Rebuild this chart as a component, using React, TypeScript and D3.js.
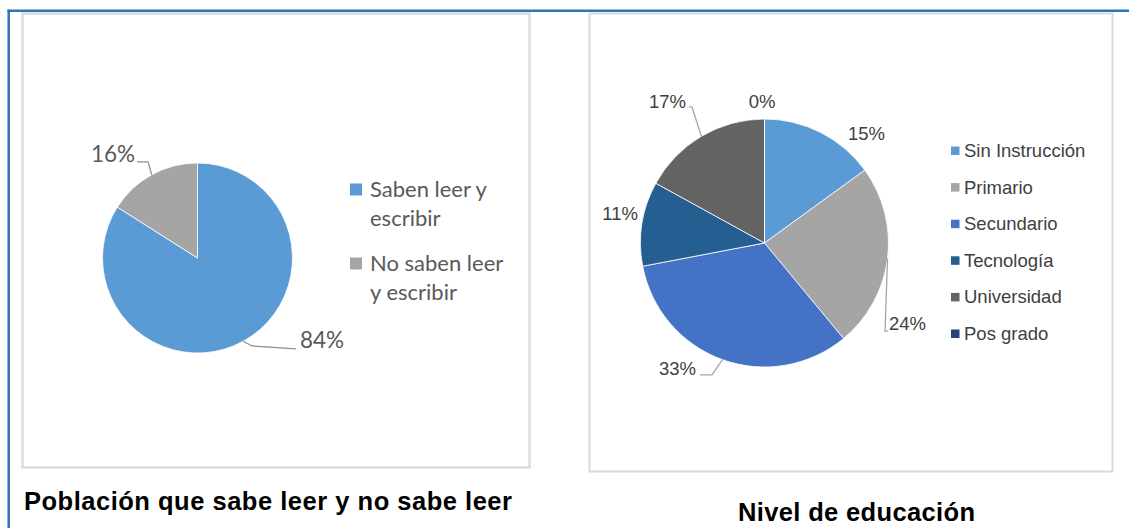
import React from 'react';
import * as d3 from 'd3';

// datos: alfabetizacion
const litCategories = ['Saben leer y escribir', 'No saben leer y escribir'];
const litValues = [84, 16];
const litLegendLines = [['Saben leer y', 'escribir'], ['No saben leer', 'y escribir']];
const litColors = ['#5b9bd5', '#a5a5a5'];

// datos: nivel de educacion
const eduCategories = ['Sin Instrucción', 'Primario', 'Secundario', 'Tecnología', 'Universidad', 'Pos grado'];
const eduValues = [15, 24, 33, 11, 17, 0];
const eduColors = ['#5b9bd5', '#a5a5a5', '#4472c4', '#255e91', '#636363', '#264478'];

const titles = ['Población que sabe leer y no sabe leer', 'Nivel de educación'];

// ajustes de etiquetas (dx, dy desde el borde del sector)
const litLabelOff: [number, number, string][] = [[56.7, 6.7, 'start'], [-16.7, -12.8, 'end']];
const litLeaders: [number, number][][] = [[[8.7, 4.7], [52.7, 7.7]], [[-3.7, -12.8], [-14.7, -12.8]]];
const eduLabelOff: [number, number, string][] = [
  [27.2, 7.5, 'start'], [1.5, 71.5, 'start'], [-26.5, 15.3, 'end'],
  [-4, -3.6, 'end'], [-15.4, -28.3, 'end'], [-2.5, -11, 'middle'],
];
const eduLeaders: ([number, number][] | null)[] = [
  null, [[-2.5, 72.5], [0.5, 72.5]], [[-10.5, 15.3], [-22.5, 15.3]],
  null, [[-9.4, -29.3], [-12.4, -29.3]], null,
];

const pie = d3.pie<number>().sort(null).value(d => d);

function outer(a: d3.PieArcDatum<number>, cx: number, cy: number, r: number) {
  const m = (a.startAngle + a.endAngle) / 2;
  return [cx + r * Math.sin(m), cy - r * Math.cos(m)];
}

const LitChart = () => {
  const cx = 197.5, cy = 258, r = 95;
  const arcs = pie(litValues);
  const arc = d3.arc<d3.PieArcDatum<number>>().innerRadius(0).outerRadius(r);
  const font = 'Lato, "Open Sans", sans-serif';
  return (
    <g>
      <rect x={22.5} y={13.5} width={507} height={454} fill="#fff" stroke="#dcdcdc" strokeWidth={2.5} />
      <g transform={`translate(${cx},${cy})`}>
        {arcs.map((a, i) => (
          <path key={i} d={arc(a) || ''} fill={litColors[i]} stroke="#fff" strokeWidth={0.8} />
        ))}
      </g>
      {arcs.map((a, i) => {
        const [ox, oy] = outer(a, cx, cy, r);
        const pts = [[ox, oy], ...litLeaders[i].map(([dx, dy]) => [ox + dx, oy + dy])];
        return (
          <g key={i}>
            <polyline points={pts.map(p => p.join(',')).join(' ')} fill="none" stroke="#8c8c8c" strokeWidth={1.2} />
            <text x={ox + litLabelOff[i][0]} y={oy + litLabelOff[i][1]} textAnchor={litLabelOff[i][2] as any}
              fontFamily={font} fontSize={22.5} fill="#595959">{d3.format('.0%')(a.data / 100)}</text>
          </g>
        );
      })}
      {litCategories.map((c, i) => (
        <g key={c} transform={`translate(350,${183.5 + i * 74})`}>
          <rect width={12} height={12} fill={litColors[i]} />
          {litLegendLines[i].map((l, j) => (
            <text key={j} x={20} y={13.5 + j * 28.7} fontFamily={font} fontSize={22} fill="#595959">{l}</text>
          ))}
        </g>
      ))}
    </g>
  );
};

const EduChart = () => {
  const cx = 764.5, cy = 243, r = 124;
  const arcs = pie(eduValues);
  const arc = d3.arc<d3.PieArcDatum<number>>().innerRadius(0).outerRadius(r);
  const font = '"Liberation Sans", Arial, sans-serif';
  return (
    <g>
      <rect x={589.5} y={13.5} width={523} height={458} fill="#fff" stroke="#d9d9d9" strokeWidth={2} />
      <g transform={`translate(${cx},${cy})`}>
        {arcs.map((a, i) => (
          <path key={i} d={arc(a) || ''} fill={eduColors[i]} stroke="#fff" strokeWidth={0.8} />
        ))}
      </g>
      {arcs.map((a, i) => {
        const [ox, oy] = outer(a, cx, cy, r);
        const ld = eduLeaders[i];
        return (
          <g key={i}>
            {ld && (
              <polyline points={[[ox, oy], ...ld.map(([dx, dy]) => [ox + dx, oy + dy])].map(p => p.join(',')).join(' ')}
                fill="none" stroke="#a6a6a6" strokeWidth={1.3} />
            )}
            <text x={ox + eduLabelOff[i][0]} y={oy + eduLabelOff[i][1]} textAnchor={eduLabelOff[i][2] as any}
              fontFamily={font} fontSize={18.5} fill="#404040">{d3.format('.0%')(a.data / 100)}</text>
          </g>
        );
      })}
      {eduCategories.map((c, i) => (
        <g key={c} transform={`translate(951,${146.5 + i * 36.6})`}>
          <rect width={8.5} height={8.5} fill={eduColors[i]} />
          <text x={13} y={10.5} fontFamily={font} fontSize={18.5} fill="#404040">{c}</text>
        </g>
      ))}
    </g>
  );
};

export default function App() {
  return (
    <svg width={1129} height={528} style={{ position: 'absolute', left: 0, top: 0, background: '#fff' }}>
      <line x1={7.5} y1={10.7} x2={1129} y2={10.7} stroke="#2e75b6" strokeWidth={2.5} />
      <line x1={8.7} y1={9.5} x2={8.7} y2={528} stroke="#2e75b6" strokeWidth={2.5} />
      <LitChart />
      <EduChart />
      <text x={24} y={509.5} fontFamily='"Liberation Sans", Arial, sans-serif' fontWeight="bold" fontSize={25.5}
        textLength={488} lengthAdjust="spacing" fill="#000">{titles[0]}</text>
      <text x={738} y={521} fontFamily='"Liberation Sans", Arial, sans-serif' fontWeight="bold" fontSize={25.5}
        textLength={237} lengthAdjust="spacing" fill="#000">{titles[1]}</text>
    </svg>
  );
}
